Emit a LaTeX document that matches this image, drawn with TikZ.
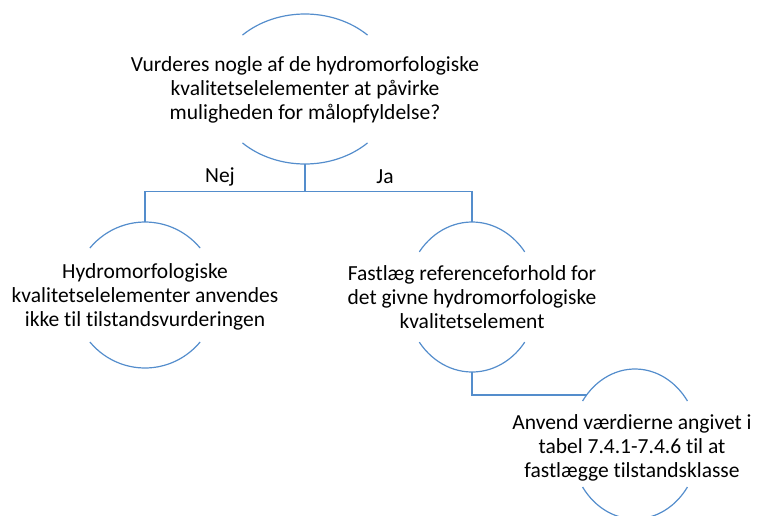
\documentclass[tikz,border=0pt]{standalone}
\usepackage{fontspec}
\setmainfont{Carlito}[Ligatures=NoCommon]
\usetikzlibrary{shapes.geometric,calc}
\definecolor{lineblue}{RGB}{84,141,204}
\begin{document}
\begin{tikzpicture}[x=1pt,y=-1pt,
  shapebox/.style={ellipse,draw=none,inner sep=0pt},
  txt/.style={align=center,font=\fontsize{21.5}{24}\selectfont,text=black,inner sep=0pt},
  conn/.style={draw=lineblue,line width=1.2pt},
  arcline/.style={draw=lineblue,line width=1.2pt}]
\useasboundingbox (0,0) rectangle (757,515);
% ellipse frames (invisible, for anchors)
\node[shapebox,minimum width=180pt,minimum height=150pt] (e1) at (305,89) {};
\node[shapebox,minimum width=144pt,minimum height=146pt] (e2) at (145,295) {};
\node[shapebox,minimum width=132pt,minimum height=150pt] (e3) at (472,297) {};
\node[shapebox,minimum width=128pt,minimum height=150pt] (e4) at (635,444) {};
% arcs
\draw[arcline] ([shift={(226:90 and 75)}]e1.center) arc[start angle=226,end angle=314,x radius=90,y radius=75];
\draw[arcline] ([shift={(134:90 and 75)}]e1.center) arc[start angle=134,end angle=46,x radius=90,y radius=75];
\draw[arcline] ([shift={(220:72 and 73)}]e2.center) arc[start angle=220,end angle=320,x radius=72,y radius=73];
\draw[arcline] ([shift={(140:72 and 73)}]e2.center) arc[start angle=140,end angle=40,x radius=72,y radius=73];
\draw[arcline] ([shift={(217:66 and 75)}]e3.center) arc[start angle=217,end angle=323,x radius=66,y radius=75];
\draw[arcline] ([shift={(143:66 and 75)}]e3.center) arc[start angle=143,end angle=37,x radius=66,y radius=75];
\draw[arcline] ([shift={(215:64 and 75)}]e4.center) arc[start angle=215,end angle=325,x radius=64,y radius=75];
\draw[arcline] ([shift={(145:64 and 75)}]e4.center) arc[start angle=145,end angle=35,x radius=64,y radius=75];
% texts
\node[txt] (t1) at (305,90) {Vurderes nogle af de hydromorfologiske\\kvalitetselelementer at påvirke\\muligheden for målopfyldelse?};
\node[txt] (t2) at (145,297) {Hydromorfologiske\\kvalitetselelementer anvendes\\ikke til tilstandsvurderingen};
\node[txt] (t3) at (472,297) {Fastlæg referenceforhold for\\det givne hydromorfologiske\\kvalitetselement};
\node[txt] (t4) at (632,448) {Anvend værdierne angivet i\\tabel 7.4.1-7.4.6 til at\\fastlægge tilstandsklasse};
% connectors
\coordinate (j1) at ($(e1.south)+(0,27)$);
\coordinate (j4) at ($(e4.center)+(-48.4,-49)$);
\draw[conn] (e1.south) -- (j1) -| (e2.north);
\draw[conn] (j1) -| (e3.north);
\draw[conn] (e3.south) |- (j4);
% labels
\node[txt] (nej) at (220,177) {Nej};
\node[txt] (ja) at (385,177) {Ja};
\end{tikzpicture}
\end{document}
